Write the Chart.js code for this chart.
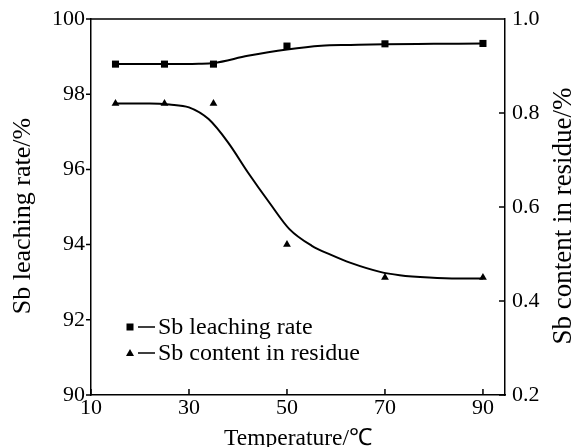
<!DOCTYPE html>
<html>
<head>
<meta charset="utf-8">
<script src="https://cdn.jsdelivr.net/npm/chart.js@4/dist/chart.umd.min.js"></script>
<style>
  html, body { margin: 0; padding: 0; background: #fff; }
  #wrap { width: 574px; height: 447px; }
</style>
</head>
<body>
<div id="wrap"><canvas id="chart" width="574" height="447"></canvas></div>
<script>
/* ── Data ── */
const temps = [15, 25, 35, 50, 70, 90];
const leachRate = [98.8, 98.8, 98.8, 99.28, 99.34, 99.35];
const residueSb = [0.82, 0.82, 0.82, 0.52, 0.45, 0.45];

// fitted curves
const leachCurveX = [15, 25, 32, 35, 42, 50, 57, 63, 70, 80, 90];
const leachCurveY = [98.8, 98.8, 98.81, 98.83, 99.02, 99.19, 99.29, 99.31, 99.33, 99.34, 99.35];
const residueCurveX = [15, 22, 26, 30, 34, 38, 42, 46.5, 50.5, 55, 59, 63, 69, 73, 79, 85, 90];
const residueCurveY = [0.82, 0.82, 0.818, 0.812, 0.787, 0.737, 0.674, 0.608, 0.553, 0.518, 0.498, 0.481, 0.462, 0.455, 0.45, 0.448, 0.448];

const xTicks = [10, 30, 50, 70, 90];
const yLeftTicks = [90, 92, 94, 96, 98, 100];
const yRightTicks = [0.2, 0.4, 0.6, 0.8, 1.0];

const xTitle = "Temperature/℃";
const yLeftTitle = "Sb leaching rate/%";
const yRightTitle = "Sb content in residue/%";
const legendLabels = ["Sb leaching rate", "Sb content in residue"];

const FONT = "'Liberation Serif', 'Times New Roman', serif";
const BLACK = "#000";

const pts = (xs, ys) => xs.map((x, i) => ({ x: x, y: ys[i] }));

/* ── Ticks + frame + titles + legend ── */
const decor = {
  id: "decor",
  afterDraw(chart) {
    const ctx = chart.ctx;
    const a = chart.chartArea;
    const { x, y, y1 } = chart.scales;
    ctx.save();
    ctx.strokeStyle = BLACK;
    ctx.fillStyle = BLACK;
    ctx.lineWidth = 1.5;
    ctx.beginPath();
    ctx.moveTo(a.left, a.top);
    ctx.lineTo(a.right, a.top);
    xTicks.forEach((v) => {
      const px = x.getPixelForValue(v);
      ctx.moveTo(px, a.bottom);
      ctx.lineTo(px, a.bottom - 6);
    });
    yLeftTicks.forEach((v) => {
      const py = y.getPixelForValue(v);
      ctx.moveTo(a.left, py);
      ctx.lineTo(a.left - 5, py);
    });
    yRightTicks.forEach((v) => {
      const py = y1.getPixelForValue(v);
      ctx.moveTo(a.right, py);
      ctx.lineTo(a.right - 6, py);
    });
    ctx.stroke();

    // axis titles
    const midY = (a.top + a.bottom) / 2 + 9;
    ctx.textAlign = "center";
    ctx.textBaseline = "middle";
    ctx.font = "26px " + FONT;
    ctx.save();
    ctx.translate(23, midY);
    ctx.rotate(-Math.PI / 2);
    ctx.fillText(yLeftTitle, 0, 0);
    ctx.restore();
    ctx.save();
    ctx.translate(564, midY);
    ctx.rotate(-Math.PI / 2);
    ctx.font = "27px " + FONT;
    ctx.fillText(yRightTitle, 0, 0);
    ctx.restore();
    ctx.font = "23.5px " + FONT;
    ctx.textBaseline = "alphabetic";
    ctx.fillText(xTitle, (a.left + a.right) / 2, 445);

    // legend
    const lx = a.left + 39;
    const rows = [a.bottom - 68, a.bottom - 42];
    ctx.fillRect(lx - 3.5, rows[0] - 3.5, 7, 7);
    ctx.beginPath();
    ctx.moveTo(lx - 4, rows[1] + 3);
    ctx.lineTo(lx + 4, rows[1] + 3);
    ctx.lineTo(lx, rows[1] - 4);
    ctx.closePath();
    ctx.fill();
    ctx.beginPath();
    rows.forEach((ry) => {
      ctx.moveTo(lx + 8, ry);
      ctx.lineTo(lx + 25, ry);
    });
    ctx.stroke();
    ctx.font = "24px " + FONT;
    ctx.textAlign = "left";
    ctx.textBaseline = "middle";
    legendLabels.forEach((t, i) => ctx.fillText(t, lx + 28, rows[i] + 1));
    ctx.restore();
  },
};

const tickFont = { family: FONT, size: 22 };

new Chart(document.getElementById("chart"), {
  type: "scatter",
  data: {
    datasets: [
      {
        data: pts(leachCurveX, leachCurveY),
        yAxisID: "y",
        showLine: true,
        cubicInterpolationMode: "monotone",
        borderColor: BLACK,
        borderWidth: 2,
        pointRadius: 0,
      },
      {
        data: pts(residueCurveX, residueCurveY),
        yAxisID: "y1",
        showLine: true,
        cubicInterpolationMode: "monotone",
        borderColor: BLACK,
        borderWidth: 2,
        pointRadius: 0,
      },
      {
        data: pts(temps, leachRate),
        yAxisID: "y",
        pointStyle: "rect",
        pointRadius: 5,
        backgroundColor: BLACK,
        borderColor: BLACK,
        borderWidth: 0,
      },
      {
        data: pts(temps, residueSb),
        yAxisID: "y1",
        pointStyle: "triangle",
        pointRadius: 4.5,
        backgroundColor: BLACK,
        borderColor: BLACK,
        borderWidth: 0,
      },
    ],
  },
  options: {
    responsive: false,
    animation: false,
    layout: { padding: { top: 19, left: 0, right: 0, bottom: 0 } },
    plugins: { legend: { display: false }, tooltip: { enabled: false } },
    scales: {
      x: {
        type: "linear",
        min: 10,
        max: 94.5,
        afterBuildTicks: (s) => { s.ticks = xTicks.map((v) => ({ value: v })); },
        afterFit: (s) => { s.height = 52; },
        grid: { display: false },
        border: { color: BLACK, width: 1.5 },
        ticks: { font: tickFont, color: BLACK, padding: -8, maxRotation: 0 },
      },
      y: {
        position: "left",
        min: 90,
        max: 100,
        afterBuildTicks: (s) => { s.ticks = yLeftTicks.map((v) => ({ value: v })); },
        afterFit: (s) => { s.width = 91; },
        grid: { display: false },
        border: { color: BLACK, width: 1.5 },
        ticks: { font: tickFont, color: BLACK, padding: -2 },
      },
      y1: {
        position: "right",
        min: 0.2,
        max: 1.0,
        afterBuildTicks: (s) => { s.ticks = yRightTicks.map((v) => ({ value: v })); },
        afterFit: (s) => { s.width = 69; },
        grid: { display: false },
        border: { color: BLACK, width: 1.5 },
        ticks: { font: tickFont, color: BLACK, padding: -1, callback: (v) => v.toFixed(1) },
      },
    },
  },
  plugins: [decor],
});
</script>
</body>
</html>
